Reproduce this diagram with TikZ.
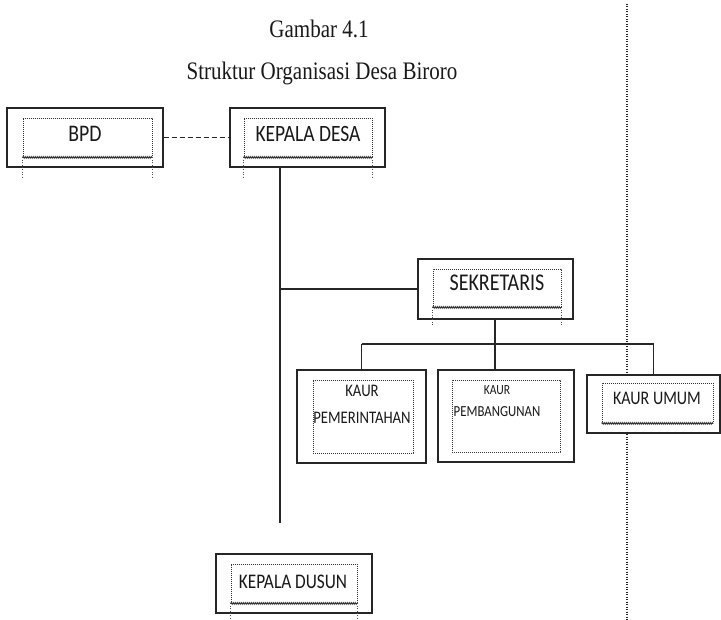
\documentclass[tikz,border=0pt]{standalone}
\usepackage{fontspec}
\setmainfont{Liberation Serif}
\newfontfamily\boxfont{Carlito}
\usetikzlibrary{decorations.pathmorphing}

% wavy line under an inner box, and the dotted legs below it
\newcommand{\wavebottom}[1]{\draw[waveline] (#1.south west) -- (#1.south east);}
\newcommand{\boxlegs}[2]{%
  \draw[legline] (#1.south west) -- ++(0,#2);
  \draw[legline] (#1.south east) -- ++(0,#2);}
% letters in the scan are a bit taller than the font
\newcommand{\tallt}[1]{\scalebox{1}[1.2]{#1}}

\begin{document}
\begin{tikzpicture}[
  x=1pt, y=-1pt,
  unitbox/.style={draw=black!85, line width=1.5pt, fill=white, inner sep=0pt},
  innerbox/.style={draw=black!80, line width=0.8pt, dash pattern=on 0.8pt off 1.2pt, inner sep=0pt},
  labeltext/.style={inner sep=0pt, align=center, text=black!90},
  waveline/.style={draw=black!80, line width=0.8pt, decorate, decoration={snake, amplitude=0.9pt, segment length=2pt}},
  legline/.style={draw=black!70, line width=0.8pt, dash pattern=on 0.8pt off 1.6pt},
  conn/.style={draw=black!85, line width=1.3pt},
  sepline/.style={draw=black!85, line width=1.2pt, dash pattern=on 1pt off 1.5pt}
]
\useasboundingbox (0,0) rectangle (721,620);

% Title
\node[labeltext, anchor=base, font=\fontsize{21}{24}\selectfont] (title) at (319,38) {\tallt{Gambar 4.1}};
\node[labeltext, anchor=base, font=\fontsize{21}{24}\selectfont] (subtitle) at (322,80) {\tallt{Struktur Organisasi Desa Biroro}};

% Dotted separator
\coordinate (septop) at (627,4);
\coordinate (sepbot) at (627,620);
\draw[sepline] (septop) -- (sepbot);

% Top row
\node[unitbox, minimum width=156pt, minimum height=59pt] (bpd) at (85,137.5) {};
\node[innerbox, minimum width=129pt, minimum height=39pt] (bpd-in) at (87.5,137.5) {};
\node[labeltext, font=\boxfont\fontsize{19.8}{22}\selectfont] (bpd-txt) at (85,134) {\tallt{BPD}};
\wavebottom{bpd-in}
\boxlegs{bpd-in}{20}

\node[unitbox, minimum width=155pt, minimum height=59pt] (kdesa) at (307.5,137.5) {};
\node[innerbox, minimum width=128pt, minimum height=39pt] (kdesa-in) at (308,137.5) {};
\node[labeltext, font=\boxfont\fontsize{19.5}{22}\selectfont] (kdesa-txt) at (308,134) {\tallt{KEPALA DESA}};
\wavebottom{kdesa-in}
\boxlegs{kdesa-in}{20}

\draw[conn, line width=1.2pt, dash pattern=on 5pt off 3pt] (bpd.east) -- (kdesa.west);

% Sekretaris
\node[unitbox, minimum width=155pt, minimum height=60pt] (sek) at (495.5,289) {};
\node[innerbox, minimum width=128pt, minimum height=38pt] (sek-in) at (497,288) {};
\node[labeltext, font=\boxfont\fontsize{20}{22}\selectfont] (sek-txt) at (497,283) {\tallt{SEKRETARIS}};
\wavebottom{sek-in}
\boxlegs{sek-in}{18}

% Kaur row
\node[unitbox, minimum width=129pt, minimum height=93pt] (pemr) at (361.5,416.5) {};
\node[innerbox, minimum width=100pt, minimum height=73pt] (pemr-in) at (363,416.5) {};
\node[labeltext, font=\boxfont\fontsize{14.7}{27}\selectfont] (pemr-txt) at (362,404.5) {\tallt{KAUR}\\\tallt{PEMERINTAHAN}};

\node[unitbox, minimum width=136pt, minimum height=92pt] (pemb) at (506,416) {};
\node[innerbox, minimum width=108pt, minimum height=72pt] (pemb-in) at (506,416) {};
\node[labeltext, font=\boxfont\fontsize{12.8}{22}\selectfont] (pemb-txt) at (497,401) {{\fontsize{11.6}{22}\selectfont\tallt{KAUR}}\\\tallt{PEMBANGUNAN}};

\node[unitbox, minimum width=133pt, minimum height=58pt] (umum) at (653.5,404) {};
\node[innerbox, minimum width=111pt, minimum height=40pt] (umum-in) at (657.5,403) {};
\node[labeltext, font=\boxfont\fontsize{16}{20}\selectfont] (umum-txt) at (657,398) {\tallt{KAUR UMUM}};
\wavebottom{umum-in}

% Kepala dusun
\node[unitbox, minimum width=156pt, minimum height=59pt] (kdusun) at (294,583.5) {};
\node[innerbox, minimum width=126pt, minimum height=39pt] (kdusun-in) at (294,583.5) {};
\node[labeltext, font=\boxfont\fontsize{17.3}{20}\selectfont] (kdusun-txt) at (293,582) {\tallt{KEPALA DUSUN}};
\wavebottom{kdusun-in}
\boxlegs{kdusun-in}{17}

% Lines
\coordinate (trunkend) at (280,523);
\coordinate (bar) at (495,344);
\draw[conn] (kdesa.south -| trunkend) -- (trunkend);
\draw[conn] (trunkend |- sek.west) -- (sek.west);
\draw[conn] (sek.south -| bar) -- (pemb.north -| bar);
\draw[conn] (pemr.north |- bar) -- (umum.north |- bar);
\draw[conn] (pemr.north |- bar) -- (pemr.north);
\draw[conn] (umum.north |- bar) -- (umum.north);
\end{tikzpicture}
\end{document}
